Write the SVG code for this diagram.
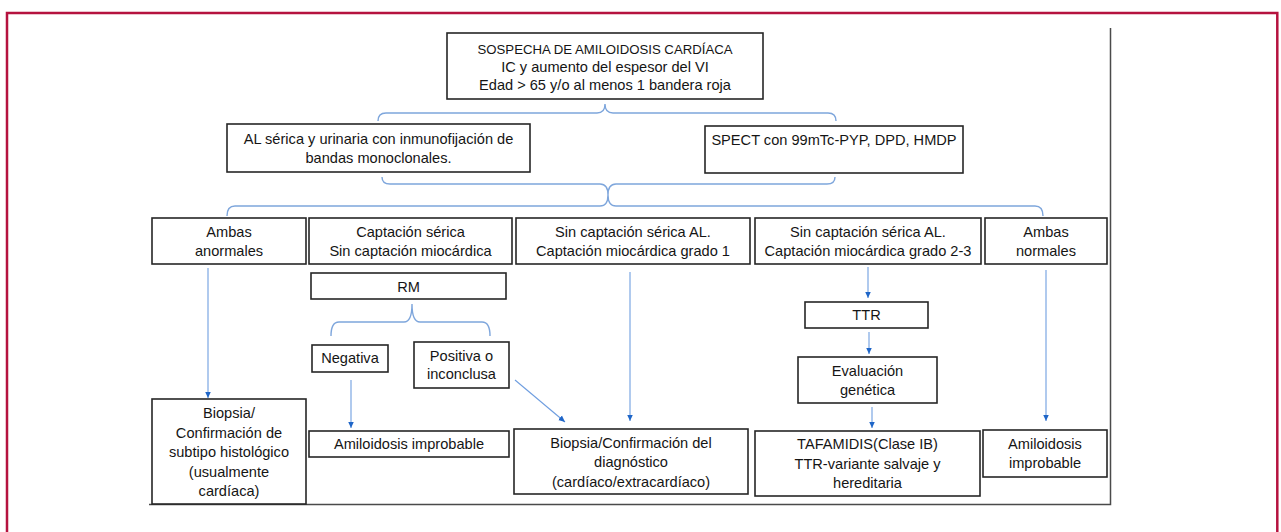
<svg xmlns="http://www.w3.org/2000/svg" width="1281" height="532" viewBox="0 0 1281 532">
<defs>
<style>
.box{fill:#fff;stroke:#262626;stroke-width:1.6}
.t{font-family:"Liberation Sans",Arial,sans-serif;font-size:14.6px;fill:#151515;text-anchor:middle}
.brace{fill:none;stroke:#7ea6dc;stroke-width:1.4}
.conn{fill:none;stroke:#6f9ee0;stroke-width:1.1}
</style>
<marker id="ah" markerUnits="userSpaceOnUse" markerWidth="7" markerHeight="7" refX="6.5" refY="3.5" orient="auto">
<path d="M0,0.5 L6.5,3.5 L0,6.5 z" fill="#1f66c8"/>
</marker>
</defs>
<rect width="1281" height="532" fill="#fff"/>
<path d="M7,532 V13 H1277.3 V532" fill="none" stroke="#b5133f" stroke-width="2.5"/>
<path d="M1110.5,28 V504.5 H149" fill="none" stroke="#4a4a4a" stroke-width="1.5"/>

<g id="connectors">
<path class="brace" d="M378,121 Q378,113 386,113 H597 Q605,113 605,104 Q605,113 613,113 H828 Q836,113 836,121"/>
<path class="brace" d="M382,177 Q382,184 390,184 H600 Q608,184 608,195 Q608,184 616,184 H827 Q835,184 835,177"/>
<path class="brace" d="M227,216 Q227,206 235,206 H600 Q608,206 608,195 Q608,206 616,206 H1035 Q1043,206 1043,216"/>
<path class="brace" d="M331,336 Q331,322 339,322 H404 Q412,322 412,304 Q412,322 420,322 H482 Q490,322 490,336"/>
<line class="conn" x1="208" y1="268" x2="208" y2="398" marker-end="url(#ah)"/>
<line class="conn" x1="351" y1="380" x2="351" y2="428" marker-end="url(#ah)"/>
<line class="conn" x1="515" y1="380" x2="565" y2="422" marker-end="url(#ah)"/>
<line class="conn" x1="630" y1="272" x2="630" y2="421" marker-end="url(#ah)"/>
<line class="conn" x1="868" y1="267" x2="868" y2="298" marker-end="url(#ah)"/>
<line class="conn" x1="869" y1="332" x2="869" y2="354" marker-end="url(#ah)"/>
<line class="conn" x1="872" y1="407" x2="872" y2="428" marker-end="url(#ah)"/>
<line class="conn" x1="1046" y1="270" x2="1046" y2="421" marker-end="url(#ah)"/>
</g>

<g id="n-sospecha">
<rect class="box" x="447" y="33" width="316" height="66"/>
<text class="t" x="605" y="54" style="font-size:13.2px">SOSPECHA DE AMILOIDOSIS CARDÍACA</text>
<text class="t" x="605" y="72">IC y aumento del espesor del VI</text>
<text class="t" x="605" y="90">Edad &gt; 65 y/o al menos 1 bandera roja</text>
</g>

<g id="n-al">
<rect class="box" x="227" y="124" width="303" height="48"/>
<text class="t" x="378.5" y="144">AL sérica y urinaria con inmunofijación de</text>
<text class="t" x="378.5" y="163">bandas monoclonales.</text>
</g>

<g id="n-spect">
<rect class="box" x="705" y="126" width="258" height="47"/>
<text class="t" x="834" y="145">SPECT con 99mTc-PYP, DPD, HMDP</text>
</g>

<g id="n-ambas-anormales">
<rect class="box" x="152" y="218" width="154" height="46"/>
<text class="t" x="229" y="237">Ambas</text>
<text class="t" x="229" y="256">anormales</text>
</g>

<g id="n-captacion-serica">
<rect class="box" x="309" y="218" width="203" height="46"/>
<text class="t" x="410.5" y="237">Captación sérica</text>
<text class="t" x="410.5" y="256">Sin captación miocárdica</text>
</g>

<g id="n-grado1">
<rect class="box" x="516" y="218" width="234" height="46"/>
<text class="t" x="633" y="237">Sin captación sérica AL.</text>
<text class="t" x="633" y="256">Captación miocárdica grado 1</text>
</g>

<g id="n-grado23">
<rect class="box" x="755" y="218" width="226" height="46"/>
<text class="t" x="868" y="237">Sin captación sérica AL.</text>
<text class="t" x="868" y="256">Captación miocárdica grado 2-3</text>
</g>

<g id="n-ambas-normales">
<rect class="box" x="985" y="218" width="122" height="46"/>
<text class="t" x="1046" y="237">Ambas</text>
<text class="t" x="1046" y="256">normales</text>
</g>

<g id="n-rm">
<rect class="box" x="311" y="273" width="195" height="26"/>
<text class="t" x="408.5" y="292">RM</text>
</g>

<g id="n-negativa">
<rect class="box" x="312" y="345" width="76" height="27"/>
<text class="t" x="350" y="363">Negativa</text>
</g>

<g id="n-positiva">
<rect class="box" x="414" y="342" width="95" height="46"/>
<text class="t" x="461.5" y="361">Positiva o</text>
<text class="t" x="461.5" y="379">inconclusa</text>
</g>

<g id="n-improbable-1">
<rect class="box" x="309" y="431" width="200" height="26"/>
<text class="t" x="409" y="449">Amiloidosis improbable</text>
</g>

<g id="n-biopsia-subtipo">
<rect class="box" x="152" y="399" width="154" height="105"/>
<text class="t" x="229" y="418">Biopsia/</text>
<text class="t" x="229" y="438">Confirmación de</text>
<text class="t" x="229" y="457">subtipo histológico</text>
<text class="t" x="229" y="477">(usualmente</text>
<text class="t" x="229" y="496">cardíaca)</text>
</g>

<g id="n-biopsia-diag">
<rect class="box" x="514" y="429" width="234" height="65"/>
<text class="t" x="631" y="448">Biopsia/Confirmación del</text>
<text class="t" x="631" y="467">diagnóstico</text>
<text class="t" x="631" y="487">(cardíaco/extracardíaco)</text>
</g>

<g id="n-ttr">
<rect class="box" x="805" y="302" width="123" height="26"/>
<text class="t" x="866.5" y="320">TTR</text>
</g>

<g id="n-evaluacion">
<rect class="box" x="798" y="357" width="139" height="46"/>
<text class="t" x="867.5" y="376">Evaluación</text>
<text class="t" x="867.5" y="395">genética</text>
</g>

<g id="n-tafamidis">
<rect class="box" x="755" y="431" width="225" height="65"/>
<text class="t" x="867.5" y="449">TAFAMIDIS(Clase IB)</text>
<text class="t" x="867.5" y="469">TTR-variante salvaje y</text>
<text class="t" x="867.5" y="488">hereditaria</text>
</g>

<g id="n-improbable-2">
<rect class="box" x="983" y="430" width="124" height="47"/>
<text class="t" x="1045" y="449">Amiloidosis</text>
<text class="t" x="1045" y="468">improbable</text>
</g>
</svg>
